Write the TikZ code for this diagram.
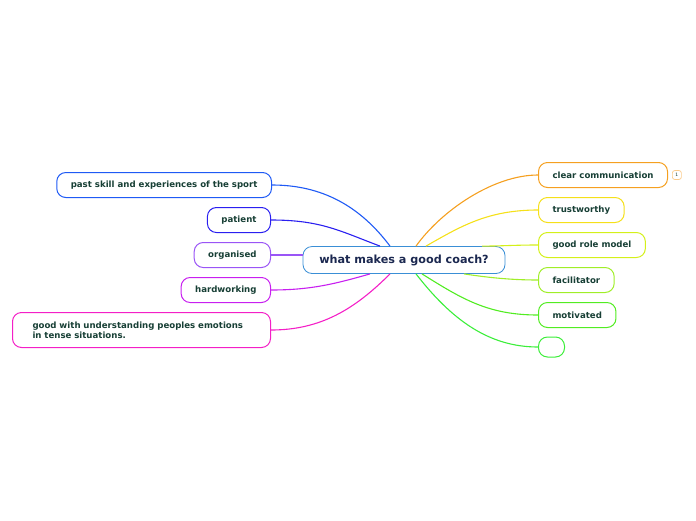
\documentclass[tikz,border=0pt]{standalone}
\usepackage{fontspec}
\setmainfont{DejaVu Sans}
\usetikzlibrary{positioning}
\definecolor{rootBlue}{HTML}{3A8FD6}
\definecolor{rootText}{HTML}{1B2850}
\definecolor{leafText}{HTML}{173F35}
\definecolor{cOrange}{HTML}{F5A020}
\definecolor{cYellow}{HTML}{F5E01A}
\definecolor{cLime}{HTML}{D4F01A}
\definecolor{cLightGreen}{HTML}{A0EE28}
\definecolor{cGreen}{HTML}{52EC22}
\definecolor{cGreenTwo}{HTML}{3CEE3A}
\definecolor{cBlue}{HTML}{1F5AF5}
\definecolor{cIndigo}{HTML}{2A1FF0}
\definecolor{cViolet}{HTML}{9A55F6}
\definecolor{cPurple}{HTML}{C81FF0}
\definecolor{cPink}{HTML}{F41FC7}
\definecolor{badgeOrange}{HTML}{FBCB8A}
\tikzset{
    topic/.style={draw, rectangle, rounded corners=9pt, fill=white, line width=1pt, inner xsep=14pt, inner ysep=0pt, minimum height=25pt, text=leafText, font=\fontsize{8.6}{10}\selectfont\bfseries},
    branch/.style={line width=1.1pt}
}

\begin{document}
\begin{tikzpicture}[x=1pt, y=-1pt]
    \useasboundingbox (0,0) rectangle (696,520);

    \node (root) [draw=rootBlue, rectangle, rounded corners=9pt, fill=white, line width=0.8pt, minimum width=202pt, minimum height=27pt, inner sep=0pt, text=rootText, font=\fontsize{11.2}{13}\selectfont\bfseries] at (404,260) {what makes a good coach?};

    % right side
    \node (clearcomm) [topic, draw=cOrange, anchor=west] at (538,175) {clear communication};
    \node (badge) [draw=badgeOrange, rectangle, rounded corners=2.5pt, line width=0.7pt, minimum size=9pt, inner sep=0pt, text=leafText, font=\fontsize{4.5}{5}\selectfont, right=4pt of clearcomm] {1};
    \node (trust) [topic, draw=cYellow, anchor=west] at (538,210) {trustworthy};
    \node (rolemodel) [topic, draw=cLime, anchor=west] at (538,245) {good role model};
    \node (facil) [topic, draw=cLightGreen, anchor=west] at (538,280) {facilitator};
    \node (motiv) [topic, draw=cGreen, anchor=west] at (538,315) {motivated};
    \node (blank) [topic, draw=cGreenTwo, anchor=west, minimum width=26pt, minimum height=20pt, inner xsep=0pt] at (538,347) {};

    % left side
    \node (pastskill) [topic, draw=cBlue, anchor=east] at (272,185) {past skill and experiences of the sport};
    \node (patient) [topic, draw=cIndigo, anchor=east] at (271,220) {patient};
    \node (organised) [topic, draw=cViolet, anchor=east] at (271,255) {organised};
    \node (hardwork) [topic, draw=cPurple, anchor=east] at (271,290) {hardworking};
    \node (emotions) [topic, draw=cPink, anchor=east, minimum width=258pt, minimum height=35pt, inner xsep=20pt, text width=218pt, align=left] at (271,330) {good with understanding peoples emotions\\in tense situations.};

    \draw [branch, cOrange] (clearcomm.west) .. controls +(-45,0) and +(25,-35) .. ([xshift=12pt]root.north);
    \draw [branch, cYellow] (trust.west) .. controls +(-50,0) and +(35,-20) .. ([xshift=22pt]root.north);
    \draw [branch, cLime] (rolemodel.west) .. controls +(-25,0) and +(20,0) .. ([xshift=78pt]root.north);
    \draw [branch, cLightGreen] (facil.west) .. controls +(-30,0) and +(20,3) .. ([xshift=60pt]root.south);
    \draw [branch, cGreen] (motiv.west) .. controls +(-50,0) and +(40,25) .. ([xshift=18pt]root.south);
    \draw [branch, cGreenTwo] (blank.west) .. controls +(-50,0) and +(35,45) .. ([xshift=12pt]root.south);

    \draw [branch, cBlue] (pastskill.east) .. controls +(50,0) and +(-30,-40) .. ([xshift=-14pt]root.north);
    \draw [branch, cIndigo] (patient.east) .. controls +(50,0) and +(-40,-15) .. ([xshift=-24pt]root.north);
    \draw [branch, cViolet] (organised.east) -- ([yshift=5pt]root.west);
    \draw [branch, cPurple] (hardwork.east) .. controls +(40,0) and +(-35,10) .. ([xshift=-34pt]root.south);
    \draw [branch, cPink] (emotions.east) .. controls +(50,0) and +(-35,35) .. ([xshift=-14pt]root.south);

    \end{tikzpicture}
\end{document}
